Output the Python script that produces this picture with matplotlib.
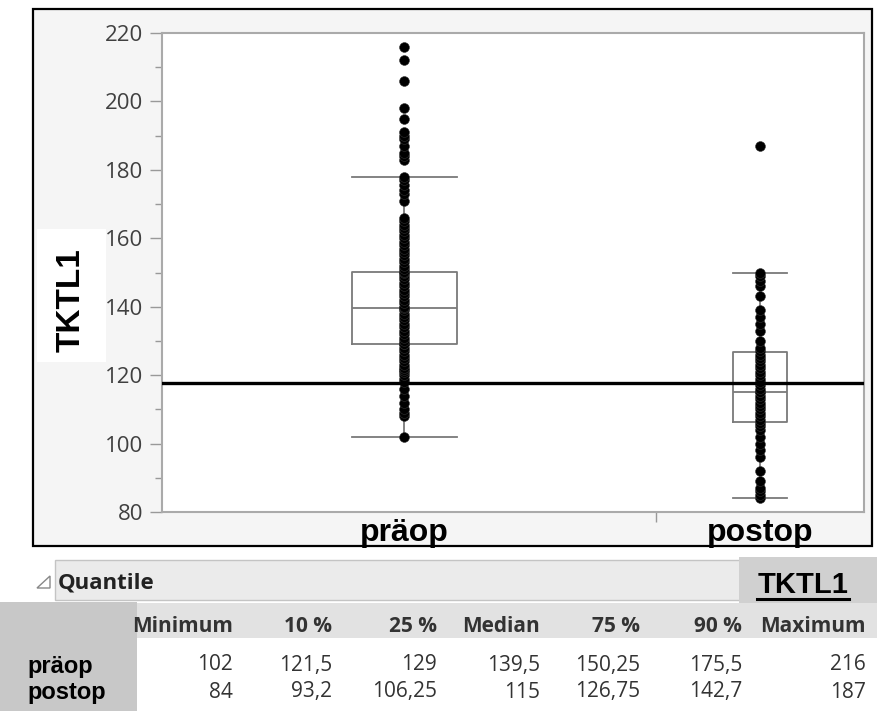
import numpy as np
import matplotlib
matplotlib.use('Agg')
import matplotlib.pyplot as plt
from matplotlib.patches import Rectangle, Polygon
from matplotlib.lines import Line2D

# Gruppen und Einzelwerte
groups = ['präop', 'postop']
praeop = [102, 108, 109, 110, 112, 114, 116, 118, 119, 120, 121, 121.5, 122, 123, 124,
          125, 126, 127, 128, 129, 129, 130, 131, 132, 133, 134, 135, 136, 137, 138,
          139, 139.5, 140, 141, 142, 143, 144, 145, 146, 147, 148, 149, 150, 150.25,
          151, 152, 153, 154, 155, 156, 157, 158, 159, 160, 161, 162, 163, 164, 165,
          166, 171, 173, 174, 175.5, 177, 178, 183, 184, 185, 187, 189, 190, 191,
          195, 198, 206, 212, 216]
postop = [84, 85, 86, 87, 89, 92, 96, 98, 100, 102, 104, 105, 106, 107, 108, 109, 110,
          111, 112, 113, 114, 115, 115, 116, 117, 118, 119, 120, 121, 122, 123, 124,
          125, 126, 127, 128, 130, 133, 135, 137, 139, 143, 146, 147.5, 149, 150, 187]

# Boxplot-Kennwerte
whisker_low = [102, 84]
q1 = [129, 106.25]
medians = [139.5, 115]
q3 = [150.25, 126.75]
whisker_high = [178, 150]
ref_line = 117.7

# Quantil-Tabelle
quantile_cols = ['Minimum', '10 %', '25 %', 'Median', '75 %', '90 %', 'Maximum']
praeop_quant = ['102', '121,5', '129', '139,5', '150,25', '175,5', '216']
postop_quant = ['84', '93,2', '106,25', '115', '126,75', '142,7', '187']

W, H = 877, 711
fig = plt.figure(figsize=(W / 100, H / 100), dpi=100)
fig.patch.set_facecolor('white')


def fx(x):
    return x / W


def fy(y):
    return 1 - y / H


def box(x0, y0, x1, y1, **kw):
    # Rechteck in Pixelkoordinaten (von oben links)
    r = Rectangle((fx(x0), fy(y1)), fx(x1) - fx(x0), fy(y0) - fy(y1),
                  transform=fig.transFigure, **kw)
    fig.add_artist(r)
    return r


# äußerer Rahmen um die Grafik
box(33, 9, 872, 546, facecolor='#f5f5f5', edgecolor='black', lw=1.6, zorder=-1)

ax = fig.add_axes([fx(162), fy(512), fx(864) - fx(162), fy(33) - fy(512)])
ax.set_facecolor('white')

stats = []
for i in range(len(groups)):
    stats.append(dict(whislo=whisker_low[i], q1=q1[i], med=medians[i], q3=q3[i],
                      whishi=whisker_high[i], fliers=[]))
widths = [0.295, 0.152]
line_style = dict(color='#7a7a7a', lw=1.3)
ax.bxp(stats, positions=[0, 1], widths=widths, capwidths=widths, showfliers=False,
       boxprops=line_style, medianprops=line_style, whiskerprops=line_style,
       capprops=line_style)

for i, vals in enumerate([praeop, postop]):
    ax.scatter(np.full(len(vals), i), vals, s=50, c='black', edgecolors='#333333',
               linewidths=0.4, zorder=3)

ax.axhline(ref_line, color='black', lw=2.4, zorder=4)

ax.set_xlim(-0.68, 1.292)
ax.set_ylim(80, 220)
ax.set_yticks(range(80, 221, 20))
ax.set_yticks(range(90, 220, 20), minor=True)
ax.tick_params(axis='y', which='major', length=8.5, width=1, color='#999999',
               labelcolor='#404040', labelsize=16, pad=5)
ax.tick_params(axis='y', which='minor', length=5, width=1, color='#999999')
for lab in ax.get_yticklabels():
    lab.set_fontfamily('Open Sans')

ax.set_xticks([0, 1])
ax.set_xticklabels(groups, fontfamily='Liberation Sans', fontweight='bold', fontsize=23)
ax.set_xticks([0.708], minor=True)
ax.tick_params(axis='x', which='major', length=0, pad=4)
ax.tick_params(axis='x', which='minor', length=7, width=1, color='#999999')

for sp in ax.spines.values():
    sp.set_color('#aaaaaa')
    sp.set_linewidth(1.5)

# y-Achsentitel in weißem Feld
box(37, 229, 106, 362, facecolor='white', edgecolor='none', zorder=2)
fig.text(fx(71), fy(300), 'TKTL1', rotation=90, ha='center', va='center',
         fontsize=24, fontweight='bold', fontfamily='Liberation Sans', zorder=3)

# Tabelle "Quantile"
box(55, 560, 877, 600, facecolor='#ebebeb', edgecolor='#c4c4c4', lw=1)
tri = Polygon([(fx(37), fy(588)), (fx(50), fy(588)), (fx(50), fy(576))], closed=True,
              fill=False, edgecolor='#888888', lw=1, transform=fig.transFigure)
fig.add_artist(tri)
fig.text(fx(58), fy(583), 'Quantile', ha='left', va='center', fontsize=16,
         fontweight='bold', fontfamily='Open Sans', color='#222222')

box(739, 557, 877, 610, facecolor='#d0d0d0', edgecolor='none')
fig.text(fx(803), fy(585), 'TKTL1', ha='center', va='center', fontsize=21,
         fontweight='bold', fontfamily='Liberation Sans')
fig.add_artist(Line2D([fx(757), fx(849)], [fy(599), fy(599)], transform=fig.transFigure,
                      color='black', lw=2.2))

box(137, 603, 877, 638, facecolor='#e2e2e2', edgecolor='none')
box(0, 602, 137, 711, facecolor='#c8c8c8', edgecolor='none')

col_right = [233, 332, 437, 540, 640, 742, 866]
for x, name, a, b in zip(col_right, quantile_cols, praeop_quant, postop_quant):
    fig.text(fx(x), fy(626), name, ha='right', va='center', fontsize=15,
             fontweight='bold', fontfamily='Open Sans', color='#333333')
    fig.text(fx(x), fy(665), a, ha='right', va='center', fontsize=15,
             fontfamily='Open Sans', color='#333333')
    fig.text(fx(x), fy(692), b, ha='right', va='center', fontsize=15,
             fontfamily='Open Sans', color='#333333')

fig.text(fx(27), fy(666), groups[0], ha='left', va='center', fontsize=17,
         fontweight='bold', fontfamily='Liberation Sans')
fig.text(fx(27), fy(693), groups[1], ha='left', va='center', fontsize=17,
         fontweight='bold', fontfamily='Liberation Sans')

fig.savefig('out.png', dpi=100)
